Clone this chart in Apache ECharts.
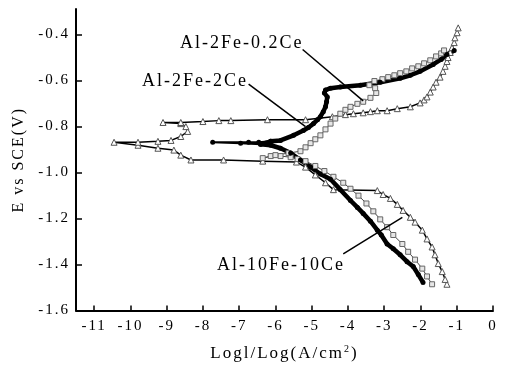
<!DOCTYPE html>
<html>
<head>
<meta charset="utf-8">
<script src="https://cdn.jsdelivr.net/npm/echarts@6/dist/echarts.min.js"></script>
<style>
html, body { margin: 0; padding: 0; background: #fff; }
#chart { width: 505px; height: 368px; }
</style>
</head>
<body>
<div id="chart"></div>
<script>
// 极化曲线 E vs logI
var xTicks = [-11, -10, -9, -8, -7, -6, -5, -4, -3, -2, -1, 0];
var yTicks = [-1.6, -1.4, -1.2, -1.0, -0.8, -0.6, -0.4];

// Al-10Fe-10Ce (三角)
var al10LogI = [-1.27, -1.32, -1.40, -1.51, -1.60, -1.68, -1.82, -1.95, -2.15, -2.28, -2.48, -2.64, -2.83, -3.03, -3.19,
    -4.40, -4.62, -4.90, -5.17, -5.42, -6.35, -7.43, -8.33, -8.61, -8.80, -9.24, -9.79, -10.45,
    -9.79, -9.24, -8.88, -8.61, -8.42, -8.47, -8.61, -9.10,
    -8.61, -8.00, -7.56, -7.23, -6.22, -5.17, -4.43, -4.07, -3.85, -3.58, -3.38, -3.19, -2.92, -2.64, -2.28,
    -2.01, -1.90, -1.82, -1.73, -1.65, -1.57, -1.46, -1.38, -1.32, -1.27, -1.24, -1.18, -1.13, -1.07, -1.05, -0.99, -0.96];
var al10E = [-1.486, -1.465, -1.431, -1.396, -1.358, -1.324, -1.289, -1.251, -1.216, -1.195, -1.165, -1.139, -1.113, -1.096, -1.079,
    -1.075, -1.045, -1.011, -0.977, -0.955, -0.951, -0.946, -0.946, -0.925, -0.903, -0.895, -0.882, -0.869,
    -0.869, -0.865, -0.861, -0.844, -0.822, -0.801, -0.788, -0.783,
    -0.783, -0.779, -0.775, -0.775, -0.771, -0.771, -0.758, -0.749, -0.745, -0.741, -0.736, -0.732, -0.732, -0.723, -0.715,
    -0.698, -0.685, -0.672, -0.651, -0.629, -0.608, -0.586, -0.561, -0.539, -0.518, -0.501, -0.479, -0.458, -0.436, -0.415, -0.393, -0.372];

// Al-2Fe-0.2Ce (灰色方块)
var al02LogI = [-1.68, -1.82, -1.95, -2.15, -2.34, -2.50, -2.75, -2.92, -3.11, -3.30, -3.49, -3.71, -3.93, -4.13, -4.40, -4.65,
    -4.90, -5.17, -5.39, -5.58, -5.86, -6.13, -6.35, -6.00, -5.64,
    -5.31, -5.17, -5.03, -4.90, -4.76, -4.62, -4.48, -4.35, -4.21, -4.07, -3.93, -3.74, -3.58, -3.38, -3.22, -3.25,
    -3.41, -3.27, -3.05, -2.89, -2.72, -2.56, -2.39, -2.23, -2.06, -1.90, -1.73, -1.57, -1.43, -1.35];
var al02E = [-1.486, -1.452, -1.418, -1.379, -1.345, -1.311, -1.272, -1.238, -1.204, -1.169, -1.135, -1.101, -1.071, -1.045, -1.019, -0.994,
    -0.972, -0.951, -0.942, -0.934, -0.929, -0.929, -0.938, -0.925, -0.916,
    -0.908, -0.891, -0.873, -0.856, -0.839, -0.813, -0.788, -0.766, -0.745, -0.728, -0.715, -0.702, -0.693, -0.676, -0.655, -0.634,
    -0.621, -0.603, -0.595, -0.586, -0.578, -0.569, -0.561, -0.548, -0.539, -0.526, -0.513, -0.496, -0.483, -0.470];

// Al-2Fe-2Ce (黑色粗线)，第21~25个点是腐蚀电位处向左的细线
var al2LogI = [-1.93, -2.06, -2.20, -2.37, -2.56, -2.75, -2.92, -3.08, -3.19, -3.38, -3.58, -3.74, -3.93, -4.21, -4.48, -4.76,
    -5.03, -5.31, -5.58, -5.86, -6.13, -6.41, -6.96, -7.73, -6.74, -6.46, -6.13, -5.86, -5.50, -5.23, -5.09, -4.95,
    -4.84, -4.76, -4.68, -4.62, -4.59, -4.57, -4.65, -4.62, -4.48, -4.21, -3.66, -3.11, -2.56, -2.28, -2.01, -1.65,
    -1.43, -1.27, -1.07];
var al2E = [-1.478, -1.444, -1.409, -1.388, -1.358, -1.332, -1.311, -1.272, -1.251, -1.212, -1.178, -1.152, -1.122, -1.075, -1.030, -1.007,
    -0.977, -0.946, -0.916, -0.895, -0.882, -0.878, -0.873, -0.869, -0.869, -0.869, -0.865, -0.861, -0.839, -0.818, -0.805, -0.788,
    -0.771, -0.758, -0.736, -0.715, -0.693, -0.672, -0.655, -0.642, -0.634, -0.629, -0.621, -0.608, -0.591, -0.578, -0.561, -0.531,
    -0.509, -0.488, -0.470];

// 标注引线 [起点, 终点]
var leader02 = [[-5.25, -0.466], [-3.58, -0.689]];
var leader2 = [[-6.74, -0.616], [-5.17, -0.801]];
var leader10 = [[-4.13, -1.354], [-2.50, -1.195]];

// 原图文字字距较宽，给canvas文字加一点字距
['fillText', 'strokeText', 'measureText'].forEach(function (fn) {
    var orig = CanvasRenderingContext2D.prototype[fn];
    CanvasRenderingContext2D.prototype[fn] = function () {
        if ('letterSpacing' in this) this.letterSpacing = '2px';
        return orig.apply(this, arguments);
    };
});

function pairs(xs, ys) {
    return xs.map(function (v, i) { return [v, ys[i]]; });
}

var serif = '"Liberation Serif", "Times New Roman", serif';

function leader(pts) {
    return {
        silent: true,
        symbol: ['none', 'none'],
        label: { show: false },
        lineStyle: { color: '#000', width: 1.5, type: 'solid' },
        data: [[{ coord: pts[0] }, { coord: pts[1] }]]
    };
}

var al2All = pairs(al2LogI, al2E);
// 粗线部分跳过左侧细线段
var al2Thick = al2All.slice(0, 22).concat(al2All.slice(26));
var al2Thin = al2All.slice(21, 27);

var chart = echarts.init(document.getElementById('chart'));
var option = {
    animation: false,
    backgroundColor: '#fff',
    grid: { left: 76, right: 12, top: 9, bottom: 53 },
    xAxis: {
        type: 'value',
        min: -11.5,
        max: 0,
        name: '{a|Logl/Log(A/cm}{s|2}{a|)}',
        nameLocation: 'middle',
        nameGap: 33,
        nameTextStyle: {
            rich: {
                a: { fontFamily: serif, fontSize: 17, color: '#000' },
                s: { fontFamily: serif, fontSize: 10, color: '#000', verticalAlign: 'top', padding: [0, 0, 8, 0] }
            }
        },
        axisLine: { onZero: false, lineStyle: { color: '#000', width: 2 } },
        axisTick: { inside: true, length: 5, customValues: xTicks, lineStyle: { color: '#000', width: 1.5 } },
        axisLabel: {
            customValues: xTicks,
            margin: 7,
            color: '#000',
            fontFamily: serif,
            fontSize: 15,
            formatter: function (v) { return String(Math.round(v)); }
        },
        splitLine: { show: false }
    },
    yAxis: {
        type: 'value',
        min: -1.6,
        max: -0.29,
        name: 'E vs SCE(V)',
        nameLocation: 'middle',
        nameGap: 47,
        nameTextStyle: { fontFamily: serif, fontSize: 16, color: '#000' },
        axisLine: { show: true, onZero: false, lineStyle: { color: '#000', width: 2 } },
        axisTick: { show: true, inside: true, length: 6, customValues: yTicks, lineStyle: { color: '#000', width: 1.5 } },
        axisLabel: {
            customValues: yTicks,
            margin: 6,
            color: '#000',
            fontFamily: serif,
            fontSize: 15,
            formatter: function (v) { return v.toFixed(1); }
        },
        splitLine: { show: false }
    },
    series: [
        {
            name: 'Al-10Fe-10Ce',
            type: 'line',
            data: pairs(al10LogI, al10E),
            symbol: 'triangle',
            symbolSize: 6,
            itemStyle: { color: '#fff', borderColor: '#555', borderWidth: 1 },
            lineStyle: { color: '#000', width: 1.5 },
            markLine: leader(leader10)
        },
        {
            name: 'Al-2Fe-0.2Ce',
            type: 'line',
            data: pairs(al02LogI, al02E),
            symbol: 'rect',
            symbolSize: 5,
            itemStyle: { color: '#e6e6e6', borderColor: '#666', borderWidth: 1 },
            lineStyle: { color: '#444', width: 1 },
            markLine: leader(leader02)
        },
        {
            name: 'Al-2Fe-2Ce',
            type: 'line',
            data: al2Thin,
            symbol: 'circle',
            symbolSize: 5,
            itemStyle: { color: '#000' },
            lineStyle: { color: '#000', width: 2 }
        },
        {
            name: 'Al-2Fe-2Ce',
            type: 'line',
            data: al2Thick,
            symbol: 'circle',
            symbolSize: 5,
            itemStyle: { color: '#000' },
            lineStyle: { color: '#000', width: 4.5 },
            markLine: leader(leader2)
        }
    ],
    graphic: [
        { type: 'text', x: 180, y: 43, style: { text: 'Al-2Fe-0.2Ce', font: '18px ' + serif, fill: '#000', verticalAlign: 'middle' } },
        { type: 'text', x: 142, y: 81, style: { text: 'Al-2Fe-2Ce', font: '18px ' + serif, fill: '#000', verticalAlign: 'middle' } },
        { type: 'text', x: 217, y: 265, style: { text: 'Al-10Fe-10Ce', font: '18px ' + serif, fill: '#000', verticalAlign: 'middle' } }
    ]
};
chart.setOption(option);
window.addEventListener('resize', function () { chart.resize(); });
</script>
</body>
</html>
